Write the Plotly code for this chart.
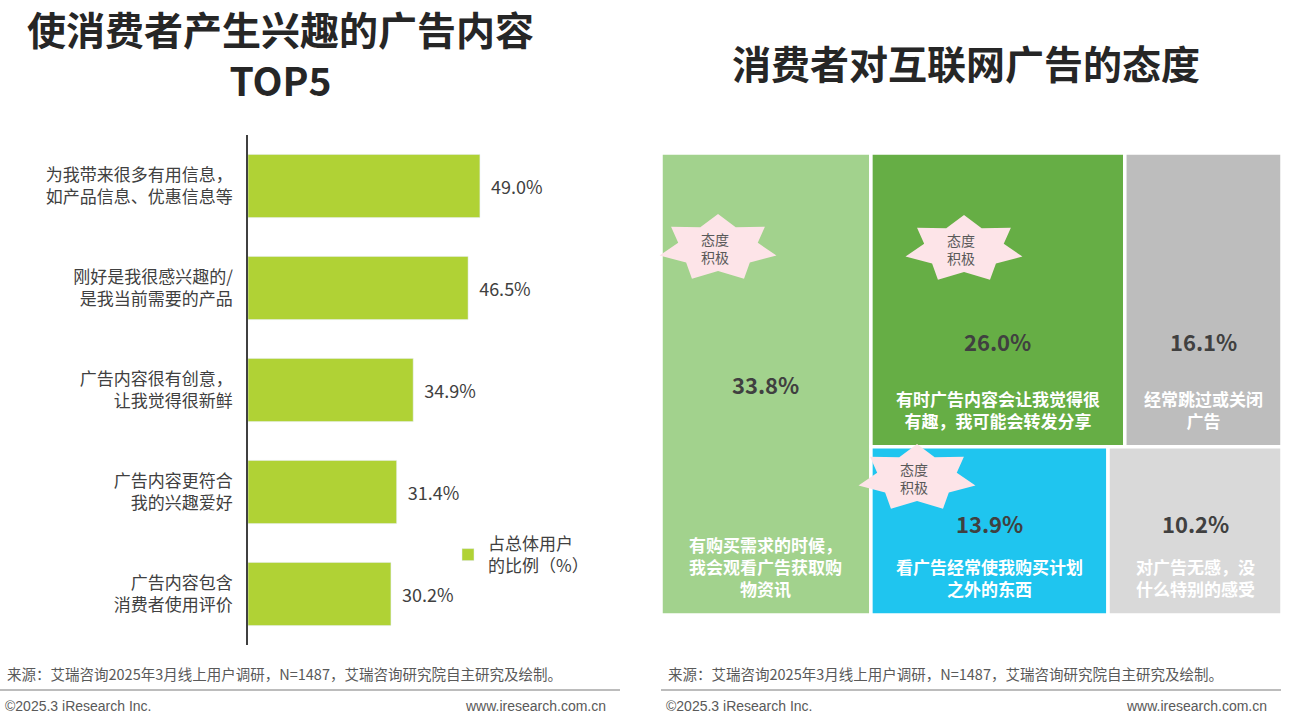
import math
import plotly.graph_objects as go

W, H = 1298, 717
bar_cats = ["为我带来很多有用信息，<br>如产品信息、优惠信息等", "刚好是我很感兴趣的/<br>是我当前需要的产品",
            "广告内容很有创意，<br>让我觉得很新鲜", "广告内容更符合<br>我的兴趣爱好", "广告内容包含<br>消费者使用评价"]
bar_vals = [49.0, 46.5, 34.9, 31.4, 30.2]

tm_labels = ["有购买需求的时候，<br>我会观看广告获取购<br>物资讯", "有时广告内容会让我觉得很<br>有趣，我可能会转发分享",
             "经常跳过或关闭<br>广告", "看广告经常使我购买计划<br>之外的东西", "对广告无感，没<br>什么特别的感受"]
tm_vals = [33.8, 26.0, 16.1, 13.9, 10.2]
tm_colors = ["#A2D28D", "#66AE45", "#BDBDBD", "#1FC5EF", "#D9D9D9"]
tm_pct_frac = [0.5, 0.36, 0.36, 0.55, 0.55]

def px(x): return x / W
def py(y): return 1 - y / H

fig = go.Figure()
fig.add_trace(go.Bar(y=bar_cats, x=bar_vals, orientation="h", marker_color="#B0D235",
                     text=[f"  {v:.1f}%" for v in bar_vals], textposition="outside",
                     textfont=dict(size=18, color="#404040"), cliponaxis=False,
                     name="占总体用户<br>的比例（%）", showlegend=True))

total = sum(tm_vals)
left_w = tm_vals[0] / total * 100
top = tm_vals[1] + tm_vals[2]; bot = tm_vals[3] + tm_vals[4]
top_h = top / (top + bot) * 100
rects = [(0, left_w, 0, 100)]
rw = 100 - left_w
x1 = left_w + rw * tm_vals[1] / top
rects.append((left_w, x1, 100 - top_h, 100))
rects.append((x1, 100, 100 - top_h, 100))
x2 = left_w + rw * tm_vals[3] / bot
rects.append((left_w, x2, 0, 100 - top_h))
rects.append((x2, 100, 0, 100 - top_h))

shapes, ann = [], []
for i, (a, b, c, d) in enumerate(rects):
    shapes.append(dict(type="rect", xref="x2", yref="y2", x0=a, x1=b, y0=c, y1=d,
                       fillcolor=tm_colors[i], line=dict(color="white", width=3.5), layer="below"))
    ann.append(dict(xref="x2", yref="y2", x=(a + b) / 2, y=c + (d - c) * tm_pct_frac[i], xanchor="center",
                    yanchor="middle", text=f"<b>{tm_vals[i]:.1f}%</b>", showarrow=False,
                    font=dict(size=22, color="#404040")))
    ann.append(dict(xref="x2", yref="y2", x=(a + b) / 2, y=c + 2.5, yanchor="bottom", xanchor="center",
                    text=f"<b>{tm_labels[i]}</b>", showarrow=False, font=dict(size=17, color="white")))

def star(cx, cy, rx, ry, n=7):
    pts = []
    for k in range(2 * n):
        ang = math.pi / 2 + k * math.pi / n
        r = 1 if k % 2 == 0 else 0.68
        pts.append((px(cx + rx * r * math.cos(ang)), py(cy - ry * r * math.sin(ang))))
    return "M " + " L ".join(f"{x:.4f},{y:.4f}" for x, y in pts) + " Z"

for (cx, cy) in [(718, 248), (964, 249), (917, 478)]:
    shapes.append(dict(type="path", xref="paper", yref="paper", path=star(cx, cy, 60, 34),
                       fillcolor="#FDE4E8", line=dict(width=0)))
    ann.append(dict(xref="paper", yref="paper", x=px(cx - 3), y=py(cy), xanchor="center", yanchor="middle",
                    text="态度<br>积极", showarrow=False, font=dict(size=14, color="#595959")))

ann.append(dict(xref="paper", yref="paper", x=px(280), y=py(54), xanchor="center", yanchor="middle",
                text="<b>使消费者产生兴趣的广告内容<br>TOP5</b>",
                showarrow=False, font=dict(size=39, color="#262626")))
ann.append(dict(xref="paper", yref="paper", x=px(966), y=py(62), xanchor="center", yanchor="middle",
                text="<b>消费者对互联网广告的态度</b>",
                showarrow=False, font=dict(size=39, color="#262626")))
for x0, x1e in [(0, 620), (661, 1281)]:
    ann.append(dict(xref="paper", yref="paper", x=px(x0 + 5), y=py(673), xanchor="left", yanchor="middle",
                    text="来源：艾瑞咨询2025年3月线上用户调研，N=1487，艾瑞咨询研究院自主研究及绘制。",
                    showarrow=False, font=dict(size=14.5, color="#595959")))
    ann.append(dict(xref="paper", yref="paper", x=px(x0 + 3), y=py(706), xanchor="left", yanchor="middle",
                    text="©2025.3 iResearch Inc.", showarrow=False,
                    font=dict(size=14, color="#595959", family="Liberation Sans")))
    ann.append(dict(xref="paper", yref="paper", x=px(x1e - 12), y=py(706), xanchor="right", yanchor="middle",
                    text="www.iresearch.com.cn", showarrow=False,
                    font=dict(size=14, color="#595959", family="Liberation Sans")))
    shapes.append(dict(type="line", xref="paper", yref="paper", x0=px(x0), x1=px(x1e), y0=py(690), y1=py(690),
                       line=dict(color="#A6A6A6", width=1.5)))

fig.update_layout(
    width=W, height=H, margin=dict(l=0, r=0, t=0, b=0), plot_bgcolor="white", paper_bgcolor="white",
    font=dict(family="Noto Sans CJK SC", color="#404040"),
    xaxis=dict(domain=[px(248), px(620)], range=[0, 78.6], visible=False),
    yaxis=dict(domain=[py(645), py(135)], autorange="reversed", showline=True, linecolor="#404040",
               linewidth=1.5, ticks="", tickfont=dict(size=17, color="#404040"), ticklabelstandoff=10),
    xaxis2=dict(domain=[px(661), px(1282)], range=[0, 100], visible=False),
    yaxis2=dict(domain=[py(615), py(153)], range=[0, 100], visible=False, anchor="x2"),
    bargap=0.38, shapes=shapes, annotations=ann,
    legend=dict(x=px(448), y=py(526), xanchor="left", yanchor="top", font=dict(size=17, color="#404040"),
                bgcolor="rgba(0,0,0,0)"),
)
fig.add_trace(go.Scatter(x=[None], y=[None], xaxis="x2", yaxis="y2", showlegend=False))
fig.write_html("out.html", config={"displayModeBar": False}, post_script="document.body.style.margin='0';")
